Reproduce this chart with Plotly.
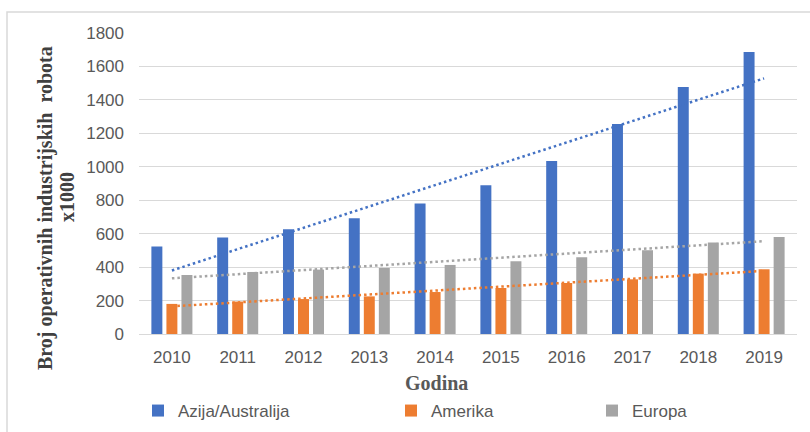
import plotly.graph_objects as go
import numpy as np

years = ["2010", "2011", "2012", "2013", "2014", "2015", "2016", "2017", "2018", "2019"]
azija = [523, 577, 626, 692, 780, 889, 1035, 1256, 1477, 1687]
amerika = [180, 194, 209, 225, 251, 275, 305, 327, 361, 387]
europa = [353, 371, 385, 395, 413, 435, 459, 501, 547, 580]

series_names = ["Azija/Australija", "Amerika", "Europa"]
colors = ["#4472C4", "#ED7D31", "#A5A5A5"]
legends = ["legend", "legend2", "legend3"]

fig = go.Figure()
idx = np.arange(len(years))
for name, vals, col, lg in zip(series_names, [azija, amerika, europa], colors, legends):
    fig.add_trace(go.Bar(x=years, y=vals, name=name, marker_color=col,
                         marker_line_width=0, legend=lg))
for name, vals, col in zip(series_names, [azija, amerika, europa], colors):
    k, b = np.polyfit(idx, vals, 1)
    fig.add_trace(go.Scatter(x=years, y=list(k * idx + b), mode="lines",
                             line=dict(color=col, width=2.5, dash="2.5px,3px"),
                             showlegend=False, hoverinfo="skip"))

W, H = 810, 432
L, R, T, B = 139, 13, 33, 98
pw, ph = W - L - R, H - T - B

def px_x(p):
    return (p - L) / pw

def px_y(p):
    return (H - B - p) / ph

tickfont = dict(family="Liberation Sans, Arial, sans-serif", size=17, color="#595959")
legfont = dict(family="Liberation Sans, Arial, sans-serif", size=17, color="#595959")

layout_legends = {}
for lg, xpix in zip(legends, [138, 391, 592]):
    layout_legends[lg] = dict(x=px_x(xpix), y=px_y(411), xanchor="left", yanchor="middle",
                              orientation="h", font=legfont, bgcolor="rgba(0,0,0,0)")

fig.update_layout(
    width=W, height=H,
    margin=dict(l=L, r=R, t=T, b=B, autoexpand=False),
    paper_bgcolor="white", plot_bgcolor="white",
    barmode="group", bargap=0.315, bargroupgap=0.27,
    showlegend=True,
    **layout_legends,
    xaxis=dict(type="category", showgrid=False, showline=True, linecolor="#D9D9D9",
               linewidth=1, ticks="", tickfont=tickfont, ticklabelstandoff=8,
               range=[-0.5, 9.5], fixedrange=True, automargin=False),
    yaxis=dict(range=[0, 1800], dtick=200, showgrid=True, gridcolor="#D9D9D9",
               gridwidth=1, zeroline=False, showline=False, ticks="",
               tickfont=tickfont, ticklabelstandoff=14, fixedrange=True, automargin=False),
    annotations=[
        dict(text="<b>Broj operativnih industrijskih  robota</b>", textangle=-90,
             xref="paper", yref="paper", x=px_x(46), y=px_y(208),
             xanchor="center", yanchor="middle", showarrow=False,
             font=dict(family="Liberation Serif, Times New Roman, serif", size=20, color="#404040")),
        dict(text="<b>x1000</b>", textangle=-90,
             xref="paper", yref="paper", x=px_x(67), y=px_y(197),
             xanchor="center", yanchor="middle", showarrow=False,
             font=dict(family="Liberation Serif, Times New Roman, serif", size=20, color="#404040")),
        dict(text="<b>Godina</b>",
             xref="paper", yref="paper", x=px_x(436), y=px_y(383),
             xanchor="center", yanchor="middle", showarrow=False,
             font=dict(family="Liberation Serif, Times New Roman, serif", size=20, color="#595959")),
    ],
    shapes=[
        dict(type="rect", xref="paper", yref="paper",
             x0=px_x(7), x1=px_x(815), y0=px_y(440), y1=px_y(12),
             line=dict(color="#D9D9D9", width=1.5), fillcolor="rgba(0,0,0,0)", layer="below"),
    ],
)

fig.write_html("out.html", config={"displayModeBar": False},
               post_script="document.body.style.margin='0';document.body.style.overflow='hidden';")
